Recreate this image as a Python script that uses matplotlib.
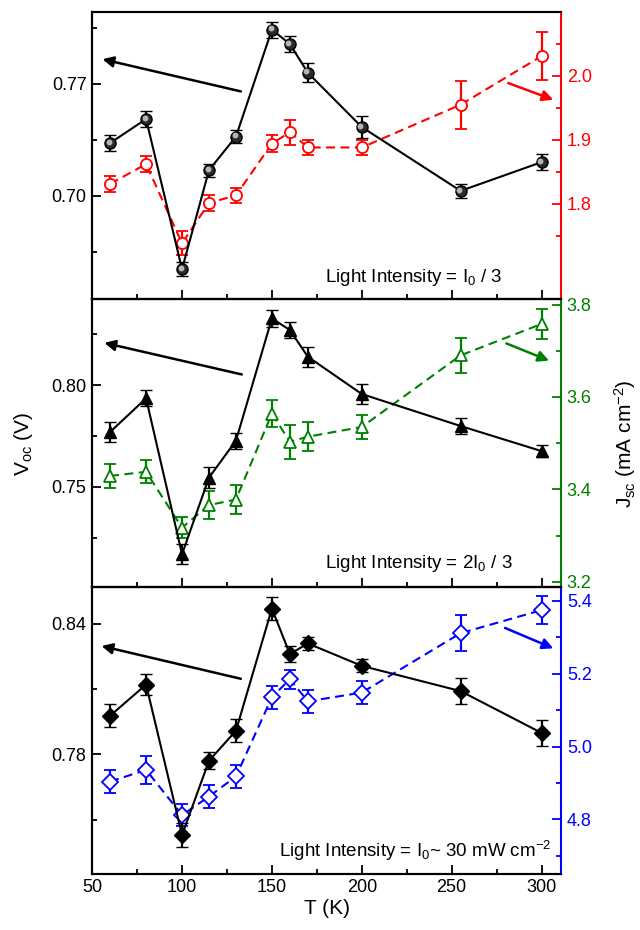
import matplotlib
matplotlib.use('Agg')
import matplotlib.pyplot as plt
import matplotlib.transforms as mtransforms
import numpy as np

plt.rcParams['font.family'] = ['Liberation Sans', 'DejaVu Sans']
plt.rcParams['mathtext.fontset'] = 'custom'
plt.rcParams['mathtext.rm'] = 'Liberation Sans'
plt.rcParams['mathtext.it'] = 'Liberation Sans:italic'
plt.rcParams['mathtext.default'] = 'regular'

# temperatures (K)
T = [60, 80, 100, 115, 130, 150, 160, 170, 200, 255, 300]

# I0/3
voc1 = [0.733, 0.748, 0.654, 0.716, 0.737, 0.804, 0.795, 0.777, 0.743, 0.703, 0.721]
voc1_err = [0.005, 0.005, 0.0045, 0.004, 0.004, 0.005, 0.005, 0.006, 0.007, 0.0045, 0.005]
jsc1 = [1.831, 1.862, 1.738, 1.801, 1.813, 1.894, 1.912, 1.888, 1.888, 1.955, 2.031]
jsc1_err = [0.013, 0.013, 0.019, 0.0125, 0.0115, 0.013, 0.0195, 0.012, 0.012, 0.0375, 0.038]

# 2I0/3
voc2 = [0.777, 0.7935, 0.717, 0.7546, 0.7727, 0.8327, 0.827, 0.8139, 0.7956, 0.7799, 0.7676]
voc2_err = [0.005, 0.004, 0.005, 0.005, 0.004, 0.0043, 0.004, 0.005, 0.005, 0.004, 0.003]
jsc2 = [3.429, 3.438, 3.317, 3.366, 3.378, 3.564, 3.503, 3.514, 3.535, 3.690, 3.758]
jsc2_err = [0.026, 0.025, 0.023, 0.031, 0.031, 0.030, 0.037, 0.031, 0.025, 0.038, 0.032]

# I0 ~ 30 mW cm-2
voc3 = [0.7978, 0.8121, 0.743, 0.7771, 0.7909, 0.847, 0.8261, 0.831, 0.8207, 0.8091, 0.7899]
voc3_err = [0.0052, 0.005, 0.0057, 0.004, 0.0053, 0.0052, 0.0038, 0.003, 0.003, 0.006, 0.006]
jsc3 = [4.904, 4.936, 4.812, 4.863, 4.918, 5.135, 5.185, 5.124, 5.148, 5.311, 5.374]
jsc3_err = [0.031, 0.039, 0.031, 0.032, 0.032, 0.032, 0.026, 0.032, 0.032, 0.050, 0.038]

panels = [
    dict(voc=voc1, verr=voc1_err, jsc=jsc1, jerr=jsc1_err, color='#ff0000', marker='o',
         vlim=(0.635, 0.815), vmaj=[0.70, 0.77], vmin=[0.665, 0.735, 0.805],
         jlim=(1.65, 2.10), jmaj=[1.8, 1.9, 2.0], jmin=[1.75, 1.85, 1.95, 2.05],
         text='Light Intensity = I$_0$ / 3', tx=0.874, ty=0.06,
         arr_b=((0.317, 0.724), (0.022, 0.836)), arr_c=((0.887, 0.753), (0.983, 0.695))),
    dict(voc=voc2, verr=voc2_err, jsc=jsc2, jerr=jsc2_err, color='#008000', marker='^',
         vlim=(0.701, 0.842), vmaj=[0.75, 0.80], vmin=[0.725, 0.775, 0.825],
         jlim=(3.189, 3.811), jmaj=[3.2, 3.4, 3.6, 3.8], jmin=[3.3, 3.5, 3.7],
         text='Light Intensity = 2I$_0$ / 3', tx=0.896, ty=0.067,
         arr_b=((0.319, 0.739), (0.026, 0.849)), arr_c=((0.883, 0.847), (0.974, 0.787))),
    dict(voc=voc3, verr=voc3_err, jsc=jsc3, jerr=jsc3_err, color='#0000ff', marker='D',
         vlim=(0.725, 0.857), vmaj=[0.78, 0.84], vmin=[0.75, 0.81],
         jlim=(4.65, 5.438), jmaj=[4.8, 5.0, 5.2, 5.4], jmin=[4.7, 4.9, 5.1, 5.3],
         text='Light Intensity = I$_0$~ 30 mW cm$^{-2}$', tx=0.980, ty=0.059,
         arr_b=((0.317, 0.680), (0.020, 0.794)), arr_c=((0.88, 0.857), (0.983, 0.786))),
]

fig = plt.figure(figsize=(6.4, 9.3), dpi=100)
gs = fig.add_gridspec(3, 1, left=0.144, right=0.877, top=0.987, bottom=0.060, hspace=0)

axes = []
for i, p in enumerate(panels):
    ax = fig.add_subplot(gs[i])
    ax2 = ax.twinx()
    ax.set_zorder(ax2.get_zorder() + 1)
    ax.patch.set_visible(False)
    c = p['color']
    ms = 7.5 if p['marker'] == 'D' else 8

    # Jsc (right axis), open markers, dashed line
    ax2.errorbar(T, p['jsc'], yerr=p['jerr'], color=c, lw=1.5, dashes=(4.3, 2.6),
                 marker=p['marker'], ms=ms if p['marker'] != 'D' else 8.5, mfc='white', mec=c, mew=1.3,
                 ecolor=c, elinewidth=1.6, capsize=4, capthick=1.6)

    # Voc (left axis), filled black markers
    fc = '#2a2a2a' if p['marker'] == 'o' else 'black'
    vms = ms if p['marker'] != 'D' else 8
    ax.errorbar(T, p['voc'], yerr=p['verr'], color='black', lw=1.5,
                marker=p['marker'], ms=vms, mfc=fc, mec='black', mew=1,
                ecolor='black', elinewidth=1.6, capsize=4, capthick=1.6)
    if p['marker'] == 'o':
        hl = mtransforms.offset_copy(ax.transData, fig=fig, x=-1.0, y=1.0, units='points')
        ax.plot(T, p['voc'], ls='none', marker='o', ms=3.2, color='#b5b5b5', transform=hl, zorder=5)

    ax.set_xlim(50, 311)
    ax.set_ylim(*p['vlim'])
    ax.set_yticks(p['vmaj'])
    ax.set_yticks(p['vmin'], minor=True)
    ax.set_yticklabels(['%.2f' % v for v in p['vmaj']])
    ax.set_xticks([50, 100, 150, 200, 250, 300])
    ax.set_xticks([75, 125, 175, 225, 275], minor=True)
    ax.tick_params(axis='both', which='major', direction='in', length=6.5, width=1.3, labelsize=13)
    ax.tick_params(axis='both', which='minor', direction='in', length=3.5, width=1.3)
    ax.tick_params(axis='y', right=False, pad=4)
    if i < 2:
        ax.tick_params(axis='x', labelbottom=False)

    ax2.set_ylim(*p['jlim'])
    ax2.set_yticks(p['jmaj'])
    ax2.set_yticks(p['jmin'], minor=True)
    ax2.set_yticklabels(['%.1f' % v for v in p['jmaj']])
    ax2.tick_params(axis='y', which='major', direction='in', length=6.5, width=1.3,
                    colors=c, labelsize=13, pad=4)
    ax2.tick_params(axis='y', which='minor', direction='in', length=3.5, width=1.3, colors=c)

    for s in ['left', 'top', 'bottom']:
        ax.spines[s].set_linewidth(1.5)
        ax2.spines[s].set_linewidth(1.5)
    ax2.spines['right'].set_color(c)
    ax2.spines['right'].set_linewidth(1.5)
    ax.spines['right'].set_visible(False)

    ax.text(p['tx'], p['ty'], p['text'], transform=ax.transAxes, ha='right', va='baseline', fontsize=13.5)

    (t0, t1) = p['arr_b']
    ax.annotate('', xy=t1, xytext=t0, xycoords='axes fraction', textcoords='axes fraction',
                arrowprops=dict(arrowstyle='-|>', color='black', lw=1.8, mutation_scale=16,
                                shrinkA=0, shrinkB=0))
    (t0, t1) = p['arr_c']
    ax.annotate('', xy=t1, xytext=t0, xycoords='axes fraction', textcoords='axes fraction',
                arrowprops=dict(arrowstyle='-|>', color=c, lw=1.8, mutation_scale=16,
                                shrinkA=0, shrinkB=0))
    axes.append(ax)

axes[-1].set_xlabel('T (K)', fontsize=15, labelpad=2)
fig.text(0.036, 0.523, 'V$_{oc}$ (V)', rotation=90, ha='center', va='center', fontsize=15)
fig.text(0.977, 0.523, 'J$_{sc}$ (mA cm$^{-2}$)', rotation=90, ha='center', va='center', fontsize=15)

fig.savefig('out.png', dpi=100)
